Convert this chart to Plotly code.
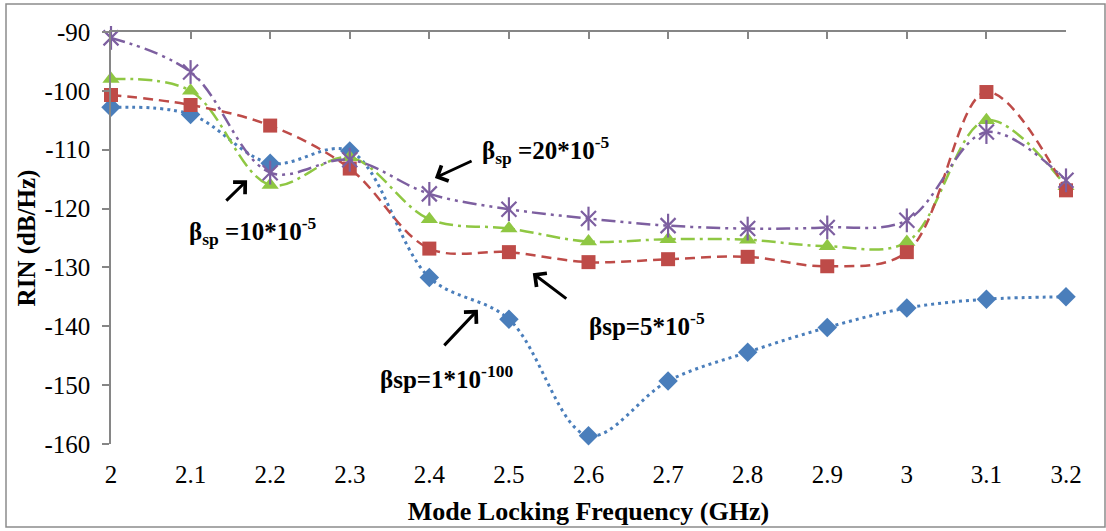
import plotly.graph_objects as go

# Mode locking frequency (GHz) and tick labels
freq = [2.0, 2.1, 2.2, 2.3, 2.4, 2.5, 2.6, 2.7, 2.8, 2.9, 3.0, 3.1, 3.2]
freq_labels = ["2", "2.1", "2.2", "2.3", "2.4", "2.5", "2.6", "2.7", "2.8", "2.9", "3", "3.1", "3.2"]

# RIN (dB/Hz) for each spontaneous-emission factor
rin_beta_1e100 = [-102.8, -104.0, -112.3, -110.2, -131.7, -138.8, -158.6, -149.3, -144.4, -140.2, -136.9, -135.4, -135.0]
rin_beta_5e5 = [-100.7, -102.4, -105.9, -113.2, -126.8, -127.4, -129.1, -128.6, -128.2, -129.8, -127.4, -100.2, -116.9]
rin_beta_10e5 = [-98.0, -100.0, -116.0, -111.3, -121.8, -123.4, -125.6, -125.2, -125.3, -126.4, -125.7, -105.0, -116.2]
rin_beta_20e5 = [-91.0, -96.8, -113.9, -111.7, -117.5, -120.1, -121.7, -122.9, -123.4, -123.2, -122.0, -107.0, -115.2]

y_ticks = [-160, -150, -140, -130, -120, -110, -100, -90]
y_labels = ["-160", "-150", "-140", "-130", "-120", "-110", "-100", "-90"]

FONT = "Liberation Serif, Times New Roman, serif"
BLUE = "#4A7EBB"
RED = "#BE4B48"
GREEN = "#8FC743"
PURPLE = "#7D5FA0"
AXIS = "#868686"


def series(y, color, dash, symbol, size, width=2.5, mline=0):
    return go.Scatter(
        x=freq, y=y, mode="lines+markers",
        line=dict(color=color, width=width, dash=dash, shape="spline", smoothing=1.0),
        marker=dict(symbol=symbol, size=size, color=color,
                    line=dict(color=color, width=mline)),
        cliponaxis=False, showlegend=False, hoverinfo="x+y",
    )


fig = go.Figure()
fig.add_trace(series(rin_beta_1e100, BLUE, "3px,4px", "diamond", 15, width=3))
fig.add_trace(series(rin_beta_10e5, GREEN, "14px,5px,3px,5px", "triangle-up", 15))
fig.add_trace(series(rin_beta_5e5, RED, "10px,6px", "square", 14))
fig.add_trace(series(rin_beta_20e5, PURPLE, "14px,5px,3px,5px,3px,5px",
                     "x-thin-open", 15, mline=2.2))
# vertical stroke completing the star marker
fig.add_trace(go.Scatter(
    x=freq, y=rin_beta_20e5, mode="markers",
    marker=dict(symbol="line-ns-open", size=17, color=PURPLE,
                line=dict(color=PURPLE, width=2.2)),
    cliponaxis=False, showlegend=False, hoverinfo="skip",
))
# top frame axis carrying the tick marks
fig.add_trace(go.Scatter(
    x=freq, y=rin_beta_1e100, xaxis="x2", mode="markers",
    marker=dict(opacity=0), showlegend=False, hoverinfo="skip",
))

arrow = dict(text="", showarrow=True, arrowhead=4, arrowsize=1.1, arrowwidth=3,
             arrowcolor="black", xref="x", yref="y", axref="x", ayref="y")
label = dict(showarrow=False, xref="x", yref="y", xanchor="left", yanchor="middle",
             font=dict(family=FONT, size=25, color="black"))

annotations = [
    dict(label, x=2.464, y=-110.0, text="<b>β<sub>sp</sub> =20*10<sup>-5</sup></b>"),
    dict(arrow, x=2.407, y=-114.8, ax=2.455, ay=-111.8),
    dict(label, x=2.095, y=-123.8, text="<b>β<sub>sp</sub> =10*10<sup>-5</sup></b>"),
    dict(arrow, x=2.171, y=-115.2, ax=2.143, ay=-118.9),
    dict(label, x=2.598, y=-139.6, text="<b>βsp=5*10<sup>-5</sup></b>"),
    dict(arrow, x=2.530, y=-131.0, ax=2.574, ay=-135.5),
    dict(label, x=2.335, y=-148.6, text="<b>βsp=1*10<sup>-100</sup></b>"),
    dict(arrow, x=2.461, y=-137.2, ax=2.417, ay=-143.5),
]

fig.update_layout(
    width=1106, height=531,
    margin=dict(l=111, r=40, t=32, b=87),
    paper_bgcolor="white", plot_bgcolor="white",
    font=dict(family=FONT, size=25, color="black"),
    xaxis=dict(
        range=[2, 3.2], tickvals=freq, ticktext=freq_labels,
        showline=False, showgrid=False, zeroline=False, ticks="",
        ticklabelstandoff=13,
        tickfont=dict(family=FONT, size=25, color="black"),
        title=dict(text="<b>Mode Locking Frequency (GHz)</b>", standoff=14,
                   font=dict(family=FONT, size=26, color="black")),
    ),
    xaxis2=dict(
        range=[2, 3.2], matches="x", overlaying="x", side="top",
        tickvals=freq, showticklabels=False,
        showline=True, linecolor=AXIS, linewidth=1.5,
        ticks="inside", ticklen=7, tickcolor=AXIS, tickwidth=1.5,
        showgrid=False, zeroline=False,
    ),
    yaxis=dict(
        range=[-160, -90], tickvals=y_ticks, ticktext=y_labels,
        showline=True, linecolor=AXIS, linewidth=1.5,
        ticks="outside", ticklen=7, tickcolor=AXIS, tickwidth=1.5,
        showgrid=False, zeroline=False, ticklabelstandoff=7,
        tickfont=dict(family=FONT, size=25, color="black"),
        title=dict(text="<b>RIN (dB/Hz)</b>", standoff=2,
                   font=dict(family=FONT, size=25, color="black")),
    ),
    annotations=annotations,
    shapes=[dict(type="rect", xref="paper", yref="paper",
                 x0=(6 - 111) / 955, x1=(1105 - 111) / 955,
                 y0=(444 - 527) / 412, y1=(444 - 4) / 412,
                 line=dict(color="#8C8C8C", width=1.5), fillcolor="rgba(0,0,0,0)",
                 layer="below")],
)

fig.write_html("out.html")
